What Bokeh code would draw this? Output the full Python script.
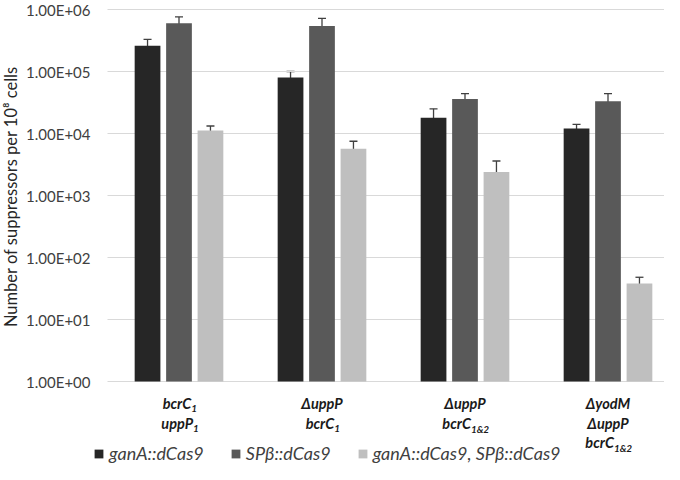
import math
from bokeh.plotting import figure
from bokeh.models import (ColumnDataSource, Whisker, TeeHead, Range1d,
                          Legend, LegendItem, Label)
from bokeh.core.properties import value
from bokeh.embed import file_html
from bokeh.resources import INLINE

# ---------------- data ----------------
categories = ["bcrC1 uppP1", "ΔuppP bcrC1", "ΔuppP bcrC1&2", "ΔyodM ΔuppP bcrC1&2"]
cat_lines = [
    [("bcrC", "1"), ("uppP", "1")],
    [("ΔuppP", ""), ("bcrC", "1")],
    [("ΔuppP", ""), ("bcrC", "1&2")],
    [("ΔyodM", ""), ("ΔuppP", ""), ("bcrC", "1&2")],
]
series_names = ["ganA::dCas9", "SPβ::dCas9", "ganA::dCas9, SPβ::dCas9"]
ganA = [2.6e5, 8.0e4, 1.8e4, 1.2e4]
ganA_err = [7e4, 2e4, 7e3, 2e3]
spb = [6.0e5, 5.4e5, 3.6e4, 3.3e4]
spb_err = [1.6e5, 1.8e5, 8e3, 1.1e4]
both = [1.12e4, 5.7e3, 2.4e3, 38]
both_err = [2e3, 1.8e3, 1.2e3, 10]
y_ticks = [1, 10, 100, 1000, 10000, 100000, 1000000]
y_tick_labels = ["1.00E+00", "1.00E+01", "1.00E+02", "1.00E+03",
                 "1.00E+04", "1.00E+05", "1.00E+06"]
y_title = "Number of suppressors per 10\u2078 cells"

colors = ["#262626", "#595959", "#bfbfbf"]
FONT = "Lato"

# ---------------- layout (canvas px) ----------------
W, H = 664, 464
LEFT = 107           # x px of the value axis
CAT_PX = 143         # px per category
TOP, BASE = 9, 381   # y px of 1e6 and of 1
decade = (BASE - TOP) / 6.0
ymax = 10 ** (6 + TOP / decade)
ymin = 10 ** (-(H - BASE) / decade)
ncat = len(categories)

p = figure(width=W, height=H, output_backend="svg", toolbar_location=None,
           x_range=Range1d(-LEFT / CAT_PX, (W - LEFT) / CAT_PX),
           y_range=Range1d(ymin, ymax), y_axis_type="log",
           min_border_left=0, min_border_right=0, min_border_top=0,
           min_border_bottom=0)
p.outline_line_color = None
p.grid.visible = False
p.xaxis.visible = False
p.yaxis.visible = False

# gridlines and tick labels of the value axis
gsrc = ColumnDataSource(dict(y=y_ticks, lab=y_tick_labels,
                             x0=[0] * len(y_ticks), x1=[ncat] * len(y_ticks)))
p.segment(x0="x0", x1="x1", y0="y", y1="y", source=gsrc,
          line_color="#d9d9d9", line_width=1)
p.text(x="x0", y="y", text="lab", source=gsrc, x_offset=-17,
       text_align="right", text_baseline="middle", text_font=value(FONT),
       text_font_size="15px", text_color="#404040")

p.add_layout(Label(x=10, y=H - 196, x_units="screen", y_units="screen",
                   text=y_title, angle=math.pi / 2, text_align="center",
                   text_baseline="middle", text_font=FONT, text_font_size="16.5px",
                   text_color="#262626"))

offsets = [-0.22, 0.0, 0.22]
vals = [ganA, spb, both]
errs = [ganA_err, spb_err, both_err]
items = []
for k in range(3):
    xs = [i + 0.5 + offsets[k] for i in range(ncat)]
    src = ColumnDataSource(dict(
        x=xs, top=vals[k],
        upper=[v + e for v, e in zip(vals[k], errs[k])],
        lower=[v - e for v, e in zip(vals[k], errs[k])]))
    r = p.vbar(x="x", top="top", bottom=1, width=0.18, source=src,
               fill_color=colors[k], line_color=None)
    items.append(LegendItem(label=series_names[k], renderers=[r]))
    w = Whisker(base="x", upper="upper", lower="lower", source=src,
                dimension="height", line_color="#404040", line_width=1.3,
                upper_head=TeeHead(size=8, line_color="#404040", line_width=1.3),
                lower_head=TeeHead(size=8, line_color="#404040", line_width=1.3))
    p.add_layout(w)

# category labels (with subscripts)
cw = {"b": .58, "c": .47, "r": .38, "C": .65, "u": .58, "p": .58, "P": .60,
      "Δ": .66, "y": .52, "o": .57, "d": .58, "M": .86, "1": .58, "&": .68, "2": .58}
def tw(s, size):
    return sum(cw.get(ch, .55) for ch in s) * size

line_y = [H - 403, H - 423, H - 442]   # screen px above canvas bottom
for i, lines in enumerate(cat_lines):
    for j, (main, sub) in enumerate(lines):
        if sub:
            wm, ws = tw(main, 14.5), tw(sub, 10)
            off = (wm - ws) / 2
            p.add_layout(Label(x=i + 0.5, y=line_y[j], x_units="data", y_units="screen",
                               text=main, text_align="right", text_baseline="middle",
                               x_offset=off, text_font=FONT, text_font_size="14.5px",
                               text_font_style="bold italic", text_color="#1a1a1a"))
            p.add_layout(Label(x=i + 0.5, y=line_y[j] - 5, x_units="data", y_units="screen",
                               text=sub, text_align="left", text_baseline="middle",
                               x_offset=off, text_font=FONT, text_font_size="10px",
                               text_font_style="bold italic", text_color="#1a1a1a"))
        else:
            p.add_layout(Label(x=i + 0.5, y=line_y[j], x_units="data", y_units="screen",
                               text=main, text_align="center", text_baseline="middle",
                               text_font=FONT, text_font_size="14.5px",
                               text_font_style="bold italic", text_color="#1a1a1a"))

legend = Legend(items=items, orientation="horizontal", location=(93, 0),
                border_line_color=None, background_fill_alpha=0, padding=0, margin=0,
                spacing=26, glyph_width=11, glyph_height=11, label_standoff=5,
                label_text_font=FONT, label_text_font_style="italic",
                label_text_font_size="18px", label_text_color="#404040",
                label_height=20)
p.add_layout(legend, "center")

open("out.html", "w").write(file_html(p, INLINE))
